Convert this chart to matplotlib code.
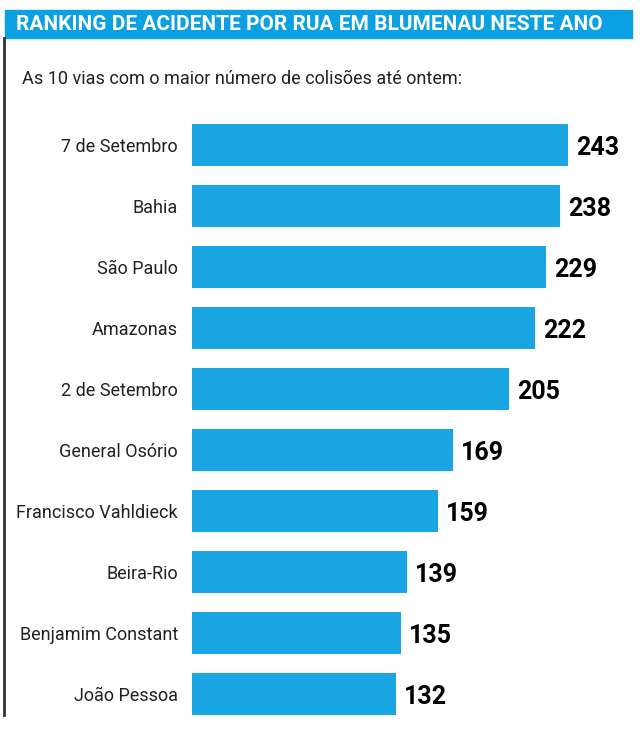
import matplotlib
matplotlib.use("Agg")
import matplotlib.pyplot as plt

ruas = ["7 de Setembro", "Bahia", "São Paulo", "Amazonas", "2 de Setembro",
        "General Osório", "Francisco Vahldieck", "Beira-Rio", "Benjamim Constant", "João Pessoa"]
colisoes = [243, 238, 229, 222, 205, 169, 159, 139, 135, 132]

plt.rcParams["font.family"] = ["Liberation Sans Narrow", "Roboto", "DejaVu Sans"]
W, H = 640, 733
fig = plt.figure(figsize=(W / 100, H / 100), dpi=100)
fig.patch.set_facecolor("white")

# header bar and left rule
fig.patches.append(plt.Rectangle((5 / W, 1 - 38 / H), 627 / W, 28 / H,
                                 transform=fig.transFigure, color="#0ba0e1"))
fig.add_artist(plt.Line2D([4 / W, 4 / W], [1 - 715 / H, 1 - 38 / H],
                          transform=fig.transFigure, color="#333333", lw=2))
fig.text(16 / W, 1 - 24 / H, "RANKING DE ACIDENTE POR RUA EM BLUMENAU NESTE ANO",
         color="white", fontsize=15, fontweight="bold", va="center")
fig.text(22 / W, 1 - 79 / H, "As 10 vias com o maior número de colisões até ontem:",
         color="#222222", fontsize=13, va="center")

ax = fig.add_axes([192 / W, 1 - 724 / H, (W - 192) / W, 609 / H])
pos = range(len(ruas))
ax.barh(pos, colisoes, height=0.69, color="#1aa5e3")
ax.set_xlim(0, (W - 192) / 1.547)
ax.set_ylim(9.5, -0.5)
ax.set_yticks(list(pos))
ax.set_yticklabels(ruas, fontsize=13, color="#222222")
ax.tick_params(axis="y", length=0, pad=10)
ax.set_xticks([])
for s in ax.spines.values():
    s.set_visible(False)
for i, v in enumerate(colisoes):
    ax.text(v + 5, i + 0.05, str(v), va="center", ha="left", fontsize=18,
            fontweight="bold", color="black")

fig.savefig("out.png", dpi=100, facecolor="white")
